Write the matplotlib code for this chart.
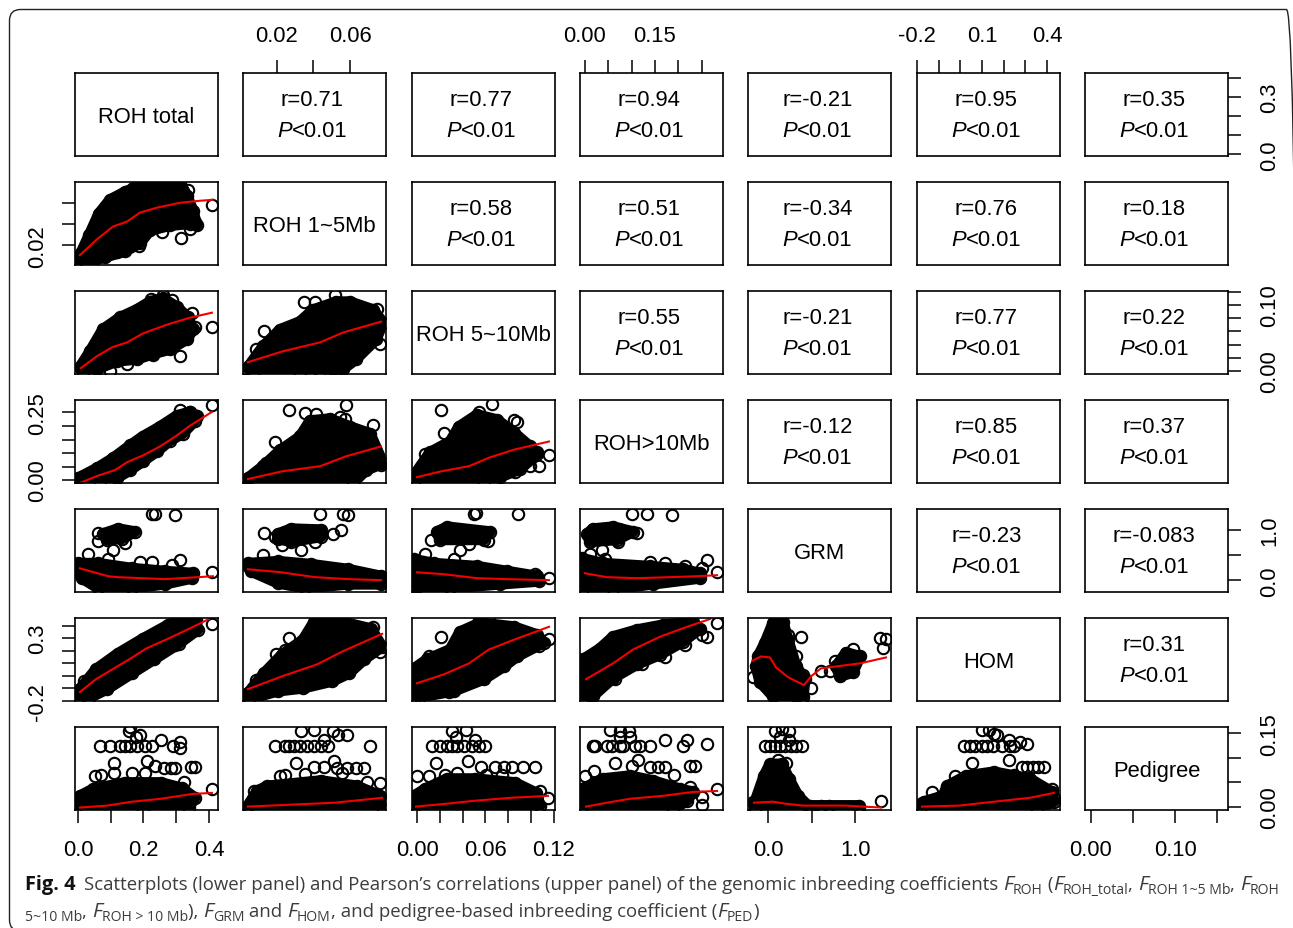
import matplotlib
matplotlib.use("Agg")
import matplotlib.pyplot as plt
from matplotlib.patches import FancyBboxPatch
from matplotlib.transforms import IdentityTransform

W, H = 1293, 929

# variable names and axis limits (same limits on x and y for a variable)
names = ['ROH total', 'ROH 1~5Mb', 'ROH 5~10Mb', 'ROH>10Mb', 'GRM', 'HOM', 'Pedigree']
lims = [(-0.009, 0.4275), (0.0014, 0.0797), (-0.0044, 0.121), (-0.0107, 0.296),
        (-0.23, 1.41), (-0.2005, 0.46), (-0.007, 0.163)]

ticks = [[0.0, 0.1, 0.2, 0.3, 0.4],
         [0.02, 0.04, 0.06],
         [0.0, 0.02, 0.04, 0.06, 0.08, 0.10, 0.12],
         [0.0, 0.05, 0.10, 0.15, 0.20, 0.25],
         [0.0, 0.5, 1.0],
         [-0.2, -0.1, 0.0, 0.1, 0.2, 0.3, 0.4],
         [0.0, 0.05, 0.10, 0.15]]
xticklabels = [['0.0', '', '0.2', '', '0.4'],
               ['0.02', '', '0.06'],
               ['0.00', '', '', '0.06', '', '', '0.12'],
               ['0.00', '', '', '0.15', '', ''],
               ['0.0', '', '1.0'],
               ['-0.2', '', '', '0.1', '', '', '0.4'],
               ['0.00', '', '0.10', '']]
yticklabels = [['0.0', '', '', '0.3', ''],
               ['0.02', '', ''],
               ['0.00', '', '', '', '', '0.10', ''],
               ['0.00', '', '', '', '', '0.25'],
               ['0.0', '', '1.0'],
               ['-0.2', '', '', '', '', '0.3', ''],
               ['0.00', '', '', '0.15']]

# upper panel correlations, row by row
r_values = [['0.71', '0.77', '0.94', '-0.21', '0.95', '0.35'],
            ['0.58', '0.51', '-0.34', '0.76', '0.18'],
            ['0.55', '-0.21', '0.77', '0.22'],
            ['-0.12', '0.85', '0.37'],
            ['-0.23', '-0.083'],
            ['0.31']]

# lower panels: o = outline of the solid black mass, c = second mass,
# p = circles that can be read one by one, l = red smoother
r1c0_ox = [.009, .034, .064, .098, .144, .189, .25, .311, .333, .351, .363, .342, .281, .22, .189, .144, .083, -.009]
r1c0_oy = [.0126, .0294, .0499, .063, .0704, .076, .0797, .0797, .0666, .0527, .0387, .0405, .0387, .034, .0219, .0144, .0089, .0014]
r1c0_px = [.168, .336, .409, .357, .342, .314, .186, .058, .119, .256, .317]
r1c0_py = [.074, .0722, .0583, .0415, .035, .0266, .0191, .0079, .0135, .0322, .0676]
r1c0_lx = [.006, .058, .107, .15, .189, .241, .311, .372, .412]
r1c0_ly = [.0107, .0256, .0377, .0424, .0508, .0555, .0601, .062, .0629]

r2c0_ox = [.006, .037, .076, .128, .18, .22, .259, .302, .336, .351, .333, .281, .229, .18, .119, .058, .015]
r2c0_oy = [.006, .03, .063, .081, .093, .105, .11, .097, .081, .063, .048, .033, .026, .018, .015, .003, -.003]
r2c0_px = [.409, .311, .259, .223, .287, .348, .357, .229, .15, .098]
r2c0_py = [.066, .0225, .115, .109, .108, .088, .0673, .024, .0105, 0.0]
r2c0_lx = [.009, .058, .104, .15, .198, .272, .342, .409]
r2c0_ly = [.0046, .0225, .0359, .0434, .0568, .0702, .0807, .0882]

r3c0_ox = [0.0, .058, .107, .159, .198, .25, .302, .342, .363, .357, .32, .281, .241, .198, .159, .119, .067]
r3c0_oy = [.0076, .044, .081, .128, .161, .197, .238, .252, .238, .219, .172, .146, .106, .069, .037, .0076, -.0107]
r3c0_px = [.409, .311, .226, .183, .342]
r3c0_py = [.278, .259, .172, .146, .252]
r3c0_lx = [.006, .058, .113, .15, .198, .25, .302, .342, .409]
r3c0_ly = [-.0107, .015, .037, .066, .091, .124, .165, .201, .252]

r3c1_ox = [.0041, .0124, .0217, .0326, .0381, .0491, .06, .071, .0781, .0688, .0617, .003]
r3c1_oy = [.0076, .0514, .1098, .1608, .2193, .2266, .1974, .1718, .0623, .0368, -.0107, -.0107]
r3c1_px = [.0266, .0354, .0414, .0578, .0546, .0573, .0727, .019, .0326, .014, .077]
r3c1_py = [.2594, .2485, .2448, .2777, .2339, .2266, .2047, .139, .1645, .0623, .055]
r3c1_lx = [.0041, .0233, .0436, .0578, .077]
r3c1_ly = [.004, .033, .0514, .0879, .1244]

r2c1_ox = [.0041, .0124, .0217, .0326, .0398, .0524, .06, .0727, .0781, .0743, .0633, .0562, .0326, .0069]
r2c1_oy = [.006, .0374, .0628, .0747, .0926, .1046, .1046, .0926, .0732, .0478, .018, .003, -.003, -.003]
r2c1_px = [.0129, .0085, .0348, .0409, .0518, .0748, .0765, .06, .0507, .0436, .0381, .0025]
r2c1_py = [.0613, .033, .1046, .1046, .115, .094, .0404, .015, .003, 0.0, 0.0, .003]
r2c1_lx = [.0041, .0233, .0436, .0562, .077]
r2c1_ly = [.0135, .03, .0434, .0583, .0747]

r3c2_ox = [-.0018, .0114, .029, .0368, .0526, .0702, .0851, .099, .1052, .0903, .0728, .0587, -.0026]
r3c2_oy = [.0222, .1025, .1426, .1974, .2412, .2229, .1755, .1244, .0952, .0404, .0112, -.0107, -.0107]
r3c2_px = [.021, .0658, .0237, .085, .0877, .0544, .1157, .107, .1052, .099, .0859, .007]
r3c2_py = [.2594, .2813, .1755, .2229, .2156, .2521, .0915, .0514, .1025, .0514, .0295, .0952]
r3c2_lx = [0.0, .0219, .0456, .064, .0859, .1157]
r3c2_ly = [.0112, .033, .0514, .0842, .1134, .1426]

r4c0_ox = [0.0, .061, .165, .266, .351, .348, .266, .165, .061, .012, -.003]
r4c0_oy = [.336, .336, .238, .18, .14, .043, -.074, -.152, -.152, .043, .18]
r4c0_cx = [.076, .122, .174, .134, .089]
r4c0_cy = [.92, 1.02, .96, .823, .804]
r4c0_px = [.061, .061, .107, .144, .226, .235, .296, .031, .092, .189, .226, .311, .287, .409]
r4c0_py = [.94, .784, .608, .745, 1.31, 1.31, 1.29, .511, .414, .355, .355, .394, .297, .16]
r4c0_lx = [.006, .092, .122, .266, .366, .412]
r4c0_ly = [.238, .082, .063, .024, .063, .082]

r4c1_ox = [.0041, .0206, .0387, .059, .077, .077, .059, .0354, .0206, .0058]
r4c1_oy = [.336, .375, .316, .219, .082, -.074, -.074, -.152, -.055, .18]
r4c1_cx = [.0206, .0277, .0441, .0441, .0277, .0206]
r4c1_cy = [.92, 1.018, .998, .862, .765, .823]
r4c1_px = [.0129, .0189, .0228, .0332, .0409, .0507, .0551, .0436, .0562, .059, .0124, .0041]
r4c1_py = [.94, .862, .706, .609, .765, .92, .999, 1.31, 1.31, 1.291, .492, .277]
r4c1_lx = [.0041, .0222, .0409, .059, .077]
r4c1_ly = [.219, .16, .063, .024, .004]

r4c2_ox = [-.0026, .0149, .0526, .0789, .1052, .107, .0728, .029, -.0026]
r4c2_oy = [.414, .336, .277, .18, .082, -.016, -.074, -.152, -.152]
r4c2_cx = [.0175, .0263, .064, .0587, .02]
r4c2_cy = [.96, 1.057, .96, .804, .804]
r4c2_px = [.0123, .0377, .0456, .0623, .05, .0517, .0886, .007, .0324, .1157, .1035, 0.0]
r4c2_py = [.804, .609, .726, .784, 1.31, 1.33, 1.31, .511, .414, .043, .121, -.132]
r4c2_lx = [0.0, .0237, .0526, .0789, .1157]
r4c2_ly = [.16, .121, .043, .024, .004]

r4c3_ox = [-.0064, .0386, .1395, .2102, .2467, .2467, .1459, .0601, -.0064]
r4c3_oy = [.433, .336, .277, .219, .14, .043, -.074, -.171, -.191]
r4c3_cx = [.0043, .0172, .0601, .103, .0687, .0108]
r4c3_cy = [.92, 1.018, 1.057, .96, .804, .765]
r4c3_px = [.1116, .073, .0365, .0708, .1008, .133, .1866, .0107, .0429, .1395, .1716, .2145, .2617, .251, .2832]
r4c3_py = [.94, 1.018, .609, .765, 1.31, 1.31, 1.291, .511, .414, .355, .336, .277, .394, .238, .16]
r4c3_lx = [0.0, .0472, .1116, .1824, .2403, .2832]
r4c3_ly = [.14, .063, .043, .063, .082, .102]

r5c0_ox = [.006, .055, .122, .198, .275, .317, .36, .366, .308, .232, .165, .089, .034, -.003]
r5c0_oy = [-.106, .052, .177, .295, .405, .452, .445, .366, .256, .13, .02, -.106, -.176, -.2]
r5c0_px = [.409, .018, .232, .296]
r5c0_py = [.413, -.043, .138, .248]
r5c0_lx = [.006, .055, .11, .156, .208, .275, .339, .4]
r5c0_ly = [-.129, -.027, .059, .13, .217, .295, .374, .452]

r5c1_ox = [.0041, .0129, .0228, .0343, .0403, .0557, .0716, .0776, .0677, .0595, .0502, .0343, .0206, .0047]
r5c1_oy = [-.137, .02, .169, .287, .429, .429, .374, .232, .13, .02, -.043, -.098, -.121, -.184]
r5c1_px = [.0266, .0244, .0195, .0727, .0085, .0765]
r5c1_py = [.303, .209, .177, .39, -.035, .193]
r5c1_lx = [.0041, .0228, .042, .0557, .0776]
r5c1_ly = [-.106, -.004, .091, .193, .334]

r5c2_ox = [.0088, .029, .0377, .0552, .085, .1052, .1114, .0877, .0763, .0587, .0324, .0026, -.0026, -.0035]
r5c2_oy = [.13, .209, .35, .421, .39, .327, .264, .154, .075, -.027, -.121, -.169, -.2, .052]
r5c2_px = [.021, .0105, .107, .1157, .0526, .028, .0158, 0.0, .0544, .0631]
r5c2_py = [.311, .154, .24, .295, -.027, -.129, -.129, -.145, .445, .445]
r5c2_lx = [0.0, .0237, .0456, .063, .085, .1157]
r5c2_ly = [-.059, .012, .099, .209, .287, .39]

r5c3_ox = [-.0043, .0322, .0601, .1116, .1673, .2317, .2467, .2102, .1609, .1116, .0601, .0172, -.0064, -.0086]
r5c3_oy = [.13, .217, .311, .366, .405, .429, .374, .272, .169, .091, -.019, -.161, -.2, .075]
r5c3_px = [.2832, .251, .2617, .2145, .1716, .1223, .0644, .015, .1223, .0043]
r5c3_py = [.421, .327, .311, .248, .146, .091, -.027, -.161, .366, .138]
r5c3_lx = [.0022, .0601, .103, .1609, .2188, .2682]
r5c3_ly = [-.027, .099, .209, .311, .39, .452]

r5c4_ox = [-.115, -.035, .057, .171, .229, .321, .424, .401, .057, -.092, -.138]
r5c4_oy = [.154, .264, .421, .429, .287, .075, -.027, -.169, -.161, -.051, .075]
r5c4_cx = [.779, .894, 1.055, .974, .825]
r5c4_cy = [.075, .185, .154, .028, -.004]
r5c4_px = [.378, .229, .321, -.173, .493, .401, .607, .711, .768, .974, 1.284, 1.353, 1.318, .022, .321]
r5c4_py = [.311, .327, .154, -.011, -.098, .004, .036, .036, .114, .217, .303, .295, .224, -.121, -.161]
r5c4_lx = [-.173, -.081, .022, .091, .229, .412, .493, .607, 1.055, 1.353]
r5c4_ly = [.122, .154, .146, .067, -.011, -.074, -.004, .059, .099, .146]

r6c0_ox = [.006, .046, .144, .253, .317, .357, .339, .2, -.009]
r6c0_oy = [.022, .036, .049, .049, .038, .018, -.002, -.006, -.006]
r6c0_px = [.067, .098, .128, .144, .159, .18, .205, .226, .253, .29, .311, .311, .156, .177, .189, .159,
           .11, .211, .052, .07, .165, .205, .235, .262, .284, .296, .345, .357, .323, .409, .11]
r6c0_py = [.125, .125, .125, .125, .125, .125, .125, .125, .137, .125, .133, .12, .154, .143, .146, .162,
           .089, .093, .063, .065, .069, .069, .083, .079, .079, .079, .081, .081, .051, .036, .069]
r6c0_lx = [.006, .089, .165, .253, .351, .409]
r6c0_ly = [-.002, .002, .01, .016, .026, .028]

r6c1_ox = [.0041, .0091, .0146, .0441, .0639, .0765, .0781, .003]
r6c1_oy = [.002, .032, .042, .053, .042, .022, -.004, -.006]
r6c1_px = [.0189, .0244, .0266, .0293, .0326, .0365, .0403, .0441, .048, .071, .0332, .0403, .0507, .0535, .0584, .0458,
           .0304, .0513, .0217, .0244, .0403, .0458, .0529, .0584, .0633, .0677, .0765, .0694, .0354, .0557, .0074]
r6c1_py = [.125, .125, .125, .125, .125, .125, .125, .125, .125, .125, .154, .156, .154, .146, .146, .137,
           .089, .093, .063, .065, .081, .081, .079, .079, .079, .079, .049, .051, .067, .069, .032]
r6c1_lx = [.0041, .0283, .0518, .0776]
r6c1_ly = [0.0, .004, .008, .018]

r6c2_ox = [-.0026, .007, .0263, .0508, .0859, .1044, .1079, -.0035]
r6c2_oy = [.022, .036, .057, .057, .049, .028, .002, -.006]
r6c2_px = [.0131, .0202, .0263, .0307, .0351, .0412, .0482, .0544, .0596, .0307, .043, .0342, .0508,
           .0166, .0447, 0.0, .0105, .0245, .0351, .0561, .0684, .0763, .0833, .093, .1035, .0605, .0745, .1079, .1149]
r6c2_py = [.125, .125, .125, .125, .125, .125, .125, .125, .125, .154, .156, .143, .137,
           .089, .093, .063, .063, .065, .069, .081, .081, .081, .081, .081, .081, .065, .065, .032, .018]
r6c2_lx = [-.0009, .0263, .0508, .0824, .1149]
r6c2_ly = [0.0, .006, .012, .018, .022]

r6c3_ox = [-.0064, .0386, .0965, .1459, .2038, .2317, .2188, .1888, -.0086]
r6c3_oy = [.036, .057, .063, .053, .036, .03, .012, -.006, -.006]
r6c3_px = [.0172, .0215, .0472, .058, .0751, .0815, .1073, .118, .1395, .1716, .2102, .2188, .2617, .0537, .0751, .0944, .0751, .0966,
           .0644, .1137, .0193, 0.0, .1008, .1395, .1566, .1716, .2253, .236, .1909, .2253, .2832, .251, .251]
r6c3_py = [.125, .125, .125, .125, .125, .125, .125, .125, .125, .137, .125, .137, .129, .156, .154, .154, .143, .143,
           .089, .095, .073, .063, .083, .081, .081, .081, .083, .083, .065, .04, .036, .02, .004]
r6c3_lx = [.0022, .0472, .0966, .1673, .2317, .2832]
r6c3_ly = [0.0, .008, .016, .022, .03, .032]

r6c4_ox = [-.15, -.046, .022, .16, .24, .344, .458, 1.043, 1.043, -.15]
r6c4_oy = [.01, .063, .087, .087, .057, .022, .002, .002, -.004, -.004]
r6c4_px = [-.035, .022, .08, .137, .194, .263, .321, .389, .08, .16, .24, .137, .24, .114, .206, 1.296, -.173, .481, .607, .699]
r6c4_py = [.125, .125, .125, .125, .125, .125, .125, .125, .154, .158, .154, .143, .137, .095, .089, .012, .01, .002, .002, .002]
r6c4_lx = [-.161, .057, .194, .401, .883, 1.296]
r6c4_ly = [.008, .01, .006, .002, .002, -.002]

r6c5_ox = [-.168, -.08, -.062, .026, .155, .321, .423, .432, .354, -.186]
r6c5_oy = [.01, .022, .042, .063, .071, .057, .03, .01, -.006, -.006]
r6c5_px = [.017, .045, .068, .1, .123, .151, .192, .229, .248, .275, .308, .1, .132, .155, .169, .225,
           .054, .225, -.025, .285, .308, .335, .358, .386, .248, .423, -.131, .432, -.177]
r6c5_py = [.125, .125, .125, .125, .125, .125, .125, .125, .125, .133, .129, .156, .156, .148, .146, .137,
           .089, .095, .063, .081, .081, .081, .081, .081, .065, .036, .03, .018, .008]
r6c5_lx = [-.177, -.006, .155, .321, .432]
r6c5_ly = [0.0, .002, .01, .018, .028]

# (row, col): outline, readable circles, smoother, optional second mass
panels = {
    (1, 0): (r1c0_ox, r1c0_oy, r1c0_px, r1c0_py, r1c0_lx, r1c0_ly),
    (2, 0): (r2c0_ox, r2c0_oy, r2c0_px, r2c0_py, r2c0_lx, r2c0_ly),
    (2, 1): (r2c1_ox, r2c1_oy, r2c1_px, r2c1_py, r2c1_lx, r2c1_ly),
    (3, 0): (r3c0_ox, r3c0_oy, r3c0_px, r3c0_py, r3c0_lx, r3c0_ly),
    (3, 1): (r3c1_ox, r3c1_oy, r3c1_px, r3c1_py, r3c1_lx, r3c1_ly),
    (3, 2): (r3c2_ox, r3c2_oy, r3c2_px, r3c2_py, r3c2_lx, r3c2_ly),
    (4, 0): (r4c0_ox, r4c0_oy, r4c0_px, r4c0_py, r4c0_lx, r4c0_ly, r4c0_cx, r4c0_cy),
    (4, 1): (r4c1_ox, r4c1_oy, r4c1_px, r4c1_py, r4c1_lx, r4c1_ly, r4c1_cx, r4c1_cy),
    (4, 2): (r4c2_ox, r4c2_oy, r4c2_px, r4c2_py, r4c2_lx, r4c2_ly, r4c2_cx, r4c2_cy),
    (4, 3): (r4c3_ox, r4c3_oy, r4c3_px, r4c3_py, r4c3_lx, r4c3_ly, r4c3_cx, r4c3_cy),
    (5, 0): (r5c0_ox, r5c0_oy, r5c0_px, r5c0_py, r5c0_lx, r5c0_ly),
    (5, 1): (r5c1_ox, r5c1_oy, r5c1_px, r5c1_py, r5c1_lx, r5c1_ly),
    (5, 2): (r5c2_ox, r5c2_oy, r5c2_px, r5c2_py, r5c2_lx, r5c2_ly),
    (5, 3): (r5c3_ox, r5c3_oy, r5c3_px, r5c3_py, r5c3_lx, r5c3_ly),
    (5, 4): (r5c4_ox, r5c4_oy, r5c4_px, r5c4_py, r5c4_lx, r5c4_ly, r5c4_cx, r5c4_cy),
    (6, 0): (r6c0_ox, r6c0_oy, r6c0_px, r6c0_py, r6c0_lx, r6c0_ly),
    (6, 1): (r6c1_ox, r6c1_oy, r6c1_px, r6c1_py, r6c1_lx, r6c1_ly),
    (6, 2): (r6c2_ox, r6c2_oy, r6c2_px, r6c2_py, r6c2_lx, r6c2_ly),
    (6, 3): (r6c3_ox, r6c3_oy, r6c3_px, r6c3_py, r6c3_lx, r6c3_ly),
    (6, 4): (r6c4_ox, r6c4_oy, r6c4_px, r6c4_py, r6c4_lx, r6c4_ly),
    (6, 5): (r6c5_ox, r6c5_oy, r6c5_px, r6c5_py, r6c5_lx, r6c5_ly),
}

plt.rcParams['font.family'] = ['Liberation Sans', 'DejaVu Sans']
FS = 15.8

fig = plt.figure(figsize=(W / 100, H / 100), dpi=100)

lefts = [75, 243, 412, 580, 748, 917, 1085]
tops = [74, 183, 292, 401, 510, 619, 728]
pw, ph = 143, 83


def rings(ax, x, y):
    ax.plot(x, y, 'o', ms=8.2, mfc='none', mec='black', mew=1.5, zorder=3)


def mass(ax, x, y):
    # thick round edge stands for the circles along the rim of the cloud
    ax.fill(x, y, fc='black', ec='black', lw=8.0, joinstyle='round', zorder=2)
    rings(ax, x, y)


for r in range(7):
    for c in range(7):
        ax = fig.add_axes([lefts[c] / W, 1 - (tops[r] + ph) / H, pw / W, ph / H])
        ax.set_xlim(lims[c])
        ax.set_ylim(lims[r])
        for s in ax.spines.values():
            s.set_linewidth(1.2)
            s.set_zorder(6)

        # outer axes alternate like pairs() does
        ax.xaxis.set_ticks_position('none')
        ax.yaxis.set_ticks_position('none')
        ax.set_xticks([])
        ax.set_yticks([])
        if r == 6 and c % 2 == 0:
            ax.xaxis.set_ticks_position('bottom')
            ax.set_xticks(ticks[c], xticklabels[c])
            ax.tick_params(axis='x', length=9.4, width=1.1, pad=11.5, labelsize=FS)
        if r == 0 and c % 2 == 1:
            ax.xaxis.set_ticks_position('top')
            ax.set_xticks(ticks[c], xticklabels[c])
            ax.tick_params(axis='x', length=9.4, width=1.1, pad=10, labelsize=FS)
        if c == 6 and r % 2 == 0:
            ax.yaxis.set_ticks_position('right')
            ax.set_yticks(ticks[r], yticklabels[r], rotation=90, va='center')
            ax.tick_params(axis='y', length=9.4, width=1.1, pad=13, labelsize=FS)
        if c == 0 and r % 2 == 1:
            ax.yaxis.set_ticks_position('left')
            ax.set_yticks(ticks[r], yticklabels[r], rotation=90, va='center')
            ax.tick_params(axis='y', length=9.4, width=1.1, pad=10, labelsize=FS)

        if r == c:
            ax.text(0.5, 0.475, names[r], transform=ax.transAxes, ha='center', va='center', fontsize=FS)
        elif c > r:
            ax.text(0.485, 0.68, 'r=' + r_values[r][c - r - 1], transform=ax.transAxes,
                    ha='center', va='center', fontsize=FS)
            ax.text(0.34, 0.31, 'P', style='italic', transform=ax.transAxes,
                    ha='right', va='center', fontsize=FS)
            ax.text(0.34, 0.31, '<0.01', transform=ax.transAxes,
                    ha='left', va='center', fontsize=FS)
        else:
            d = panels[(r, c)]
            mass(ax, d[0], d[1])
            if len(d) > 6:
                mass(ax, d[6], d[7])
            rings(ax, d[2], d[3])
            ax.plot(d[4], d[5], color='#f00000', lw=1.5, zorder=4)

# rounded frame runs off the right and bottom of the page
frame = FancyBboxPatch((9.5, -3), 1288, H - 10.5 + 3, boxstyle='round,pad=0,rounding_size=11',
                       transform=IdentityTransform(), fc='none', ec='#222222', lw=1.0)
fig.add_artist(frame)

# caption pieces: text, italic?, subscript?
CAP = 13.4
GREY = '#3c3c3c'
line1 = [('Scatterplots (lower panel) and Pearson\u2019s correlations (upper panel) of the genomic inbreeding coefficients ', 0, 0),
         ('F', 1, 0), ('ROH', 0, 1), (' (', 0, 0), ('F', 1, 0), ('ROH_total', 0, 1), (', ', 0, 0),
         ('F', 1, 0), ('ROH 1~5 Mb', 0, 1), (', ', 0, 0), ('F', 1, 0), ('ROH', 0, 1)]
line2 = [('5~10 Mb', 0, 1), (', ', 0, 0), ('F', 1, 0), ('ROH > 10 Mb', 0, 1), ('), ', 0, 0), ('F', 1, 0), ('GRM', 0, 1),
         (' and ', 0, 0), ('F', 1, 0), ('HOM', 0, 1), (', and pedigree-based inbreeding coefficient (', 0, 0),
         ('F', 1, 0), ('PED', 0, 1), (')', 0, 0)]


def write_runs(x, y, runs):
    rend = fig.canvas.get_renderer()
    for s, ital, sub in runs:
        size = CAP * (0.75 if sub else 1.1 if ital else 1)
        t = fig.text(x / W, 1 - (y + (4 if sub else 0)) / H, s, family='Open Sans', color=GREY,
                     fontsize=size, style='italic' if ital else 'normal',
                     ha='left', va='baseline')
        x += t.get_window_extent(rend).width


fig.text(25 / W, 1 - 890 / H, 'Fig. 4', family='Open Sans', weight='bold', color='#111111',
         fontsize=14.4, ha='left', va='baseline')
write_runs(84, 890, line1)
write_runs(25, 917, line2)

fig.savefig('out.png', dpi=100)
